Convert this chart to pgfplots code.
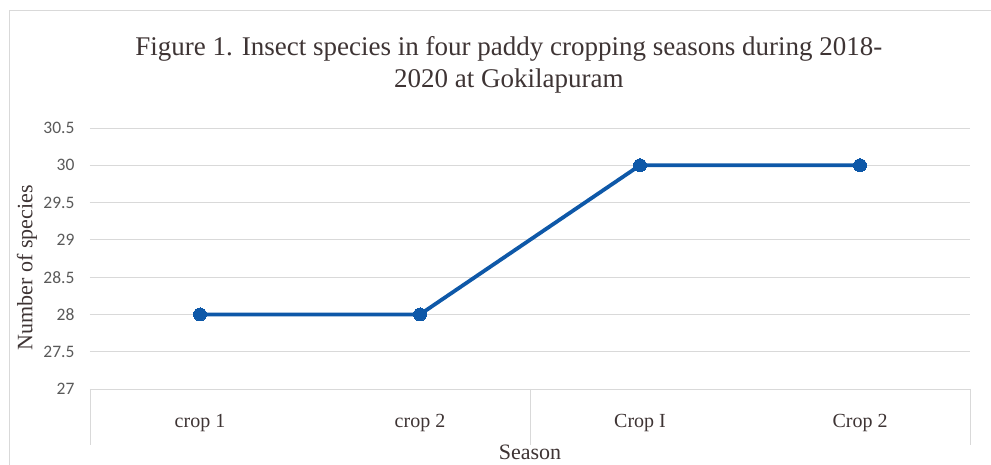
\documentclass[border=0pt]{standalone}
\usepackage{pgfplots}
\pgfplotsset{compat=1.18}
\usepackage{fontspec}
\setmainfont{Liberation Serif}
\newfontfamily\tickfont{Carlito}
\definecolor{lineblue}{RGB}{14,88,168}
\definecolor{gridgray}{RGB}{217,217,217}
\definecolor{txt}{RGB}{62,52,52}
\definecolor{ticktxt}{RGB}{89,89,89}
\begin{document}
\begin{tikzpicture}
\begin{axis}[
  scale only axis,
  width=880pt, height=261pt,
  xmin=-0.5, xmax=3.5,
  ymin=27, ymax=30.5,
  xtick={0,1,2,3},
  xticklabels={crop 1, crop 2, Crop I, Crop 2},
  ytick={27,27.5,28,28.5,29,29.5,30,30.5},
  yticklabels={27,27.5,28,28.5,29,29.5,30,30.5},
  major tick length=0pt,
  axis line style={draw=none},
  ymajorgrids,
  grid style={gridgray, line width=0.8pt},
  xticklabel style={font=\fontsize{20}{24}\selectfont, text=txt, anchor=base, yshift=-39pt},
  yticklabel style={font=\tickfont\fontsize{17.5}{20}\selectfont, text=ticktxt, anchor=east, xshift=-12pt},
  xlabel={Season},
  xlabel style={at={(axis description cs:0.5,-0.27)}, anchor=base, font=\fontsize{22}{26}\selectfont, text=txt},
  ylabel={Number of species},
  ylabel style={at={(axis description cs:-0.0716,0.464)}, anchor=center, font=\fontsize{22}{26}\selectfont, text=txt},
  clip=false,
]
\draw[gridgray, line width=0.8pt] (axis cs:-0.5,27) -- (axis cs:3.5,27);
\draw[gridgray, line width=0.8pt] (axis cs:-0.5,27) -- (axis cs:-0.5,26.25);
\draw[gridgray, line width=0.8pt] (axis cs:1.5,27) -- (axis cs:1.5,26.25);
\draw[gridgray, line width=0.8pt] (axis cs:3.5,27) -- (axis cs:3.5,26.25);
\addplot[lineblue, line width=3.8pt, mark=*, mark size=6.5pt, mark options={fill=lineblue, draw=lineblue, line width=0pt}]
  coordinates {(0,28) (1,28) (2,30) (3,30)};
\node[anchor=base, font=\fontsize{27}{32}\selectfont, text=txt] at (axis description cs:0.476,1.276) {Figure 1. Insect species in four paddy cropping seasons during 2018-};
\node[anchor=base, font=\fontsize{27}{32}\selectfont, text=txt] at (axis description cs:0.476,1.157) {2020 at Gokilapuram};
\draw[gridgray, line width=1pt] (-80pt,-76pt) -- (-80pt,378pt) -- (901pt,378pt);
\end{axis}
\pgfresetboundingbox
\path (-90pt,-76pt) rectangle (901pt,389pt);
\end{tikzpicture}
\end{document}
